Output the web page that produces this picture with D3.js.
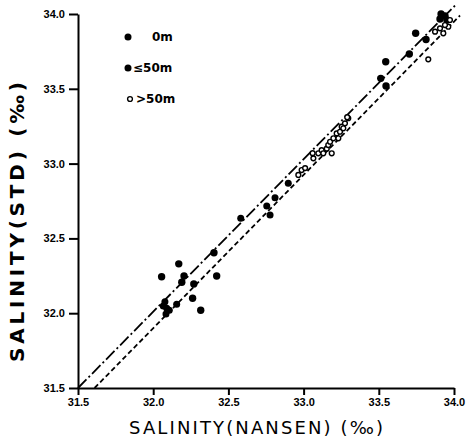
<!DOCTYPE html>
<html>
<head>
<meta charset="utf-8">
<script src="https://cdn.jsdelivr.net/npm/d3@7"></script>
<style>
  body { margin: 0; background: #fff; }
  svg { font-family: "DejaVu Sans", sans-serif; }
  .axis path, .axis line { stroke: #000; stroke-width: 2; }
  .axis text { font-size: 11px; font-weight: bold; fill: #000; }
</style>
</head>
<body>
<div id="plot"></div>
<script>
// salinity pairs [nansen, std]
var surface = [
  [32.056, 32.244], [32.17, 32.33], [32.205, 32.249], [32.19, 32.207], [32.27, 32.195],
  [32.404, 32.404], [32.422, 32.249], [32.262, 32.10], [32.316, 32.02],
  [33.513, 33.57], [33.548, 33.519], [33.546, 33.681], [33.703, 33.733],
  [33.745, 33.871], [33.814, 33.83],
  [33.914, 34.0], [33.94, 33.987], [33.907, 33.967], [33.953, 33.96]
];
var shallow = [
  [32.156, 32.06], [32.078, 32.077], [32.067, 32.048], [32.09, 32.033], [32.085, 31.995],
  [32.107, 32.02], [32.582, 32.634], [32.755, 32.717], [32.777, 32.656], [32.81, 32.772],
  [32.898, 32.868]
];
var deep = [
  [32.965, 32.924], [32.987, 32.957], [33.01, 32.97], [33.065, 33.035], [33.06, 33.07],
  [33.098, 33.069], [33.12, 33.09], [33.131, 33.069], [33.154, 33.10], [33.164, 33.124],
  [33.187, 33.069], [33.176, 33.146], [33.198, 33.169], [33.22, 33.202], [33.242, 33.213],
  [33.253, 33.247], [33.275, 33.269], [33.297, 33.303], [33.231, 33.169], [33.264, 33.236],
  [33.29, 33.31], [33.829, 33.697], [33.874, 33.882], [33.929, 33.871], [33.962, 33.915],
  [33.973, 33.96], [33.907, 33.904], [33.94, 33.926]
];
// fitted lines, end points
var lineUpper = [[31.5, 31.5], [34.02, 34.07]];
var lineLower = [[31.61, 31.5], [34.04, 33.99]];

var ticks = [31.5, 32.0, 32.5, 33.0, 33.5, 34.0];
var legendLabels = ["0m", "\u226450m", ">50m"];

var margin = { top: 14, right: 13, bottom: 51, left: 78 };
var width = 467 - margin.left - margin.right;
var height = 439 - margin.top - margin.bottom;

var svg = d3.select("div#plot")
  .append("svg")
    .attr("width", 467)
    .attr("height", 439)
  .append("g")
    .attr("transform", "translate(" + margin.left + "," + margin.top + ")");

var xscale = d3.scaleLinear().domain([31.5, 34]).range([0, width]);
var yscale = d3.scaleLinear().domain([31.5, 34]).range([height, 0]);

var xAxis = d3.axisBottom(xscale)
  .tickValues(ticks)
  .tickFormat(d3.format(".1f"))
  .tickSize(7)
  .tickSizeOuter(0)
  .tickPadding(3);

var yAxis = d3.axisLeft(yscale)
  .tickValues(ticks)
  .tickFormat(d3.format(".1f"))
  .tickSize(9)
  .tickSizeOuter(0)
  .tickPadding(4);

svg.append("g")
  .attr("class", "x axis")
  .attr("transform", "translate(0," + height + ")")
  .call(xAxis);

svg.append("g")
  .attr("class", "y axis")
  .call(yAxis);

var line = d3.line()
  .x(function(d) { return xscale(d[0]); })
  .y(function(d) { return yscale(d[1]); });

svg.append("path")
  .datum(lineUpper)
  .attr("d", line)
  .attr("fill", "none")
  .attr("stroke", "#000")
  .attr("stroke-width", 1.8)
  .attr("stroke-dasharray", "12,3,2,3");

svg.append("path")
  .datum(lineLower)
  .attr("d", line)
  .attr("fill", "none")
  .attr("stroke", "#000")
  .attr("stroke-width", 1.8)
  .attr("stroke-dasharray", "5,3");

svg.selectAll("circle.surface")
  .data(surface)
  .enter().append("circle")
  .attr("class", "surface")
  .attr("cx", function(d) { return xscale(d[0]); })
  .attr("cy", function(d) { return yscale(d[1]); })
  .attr("r", 3.7)
  .style("fill", "#000");

svg.selectAll("circle.shallow")
  .data(shallow)
  .enter().append("circle")
  .attr("class", "shallow")
  .attr("cx", function(d) { return xscale(d[0]); })
  .attr("cy", function(d) { return yscale(d[1]); })
  .attr("r", 3.5)
  .style("fill", "#000");

svg.selectAll("circle.deep")
  .data(deep)
  .enter().append("circle")
  .attr("class", "deep")
  .attr("cx", function(d) { return xscale(d[0]); })
  .attr("cy", function(d) { return yscale(d[1]); })
  .attr("r", 2.4)
  .style("fill", "#fff")
  .style("stroke", "#000")
  .style("stroke-width", 1.4);

// legend
var legend = svg.selectAll(".legend")
  .data(legendLabels)
  .enter().append("g")
  .attr("class", "legend")
  .attr("transform", function(d, i) { return "translate(50," + (23 + i * 31) + ")"; });

legend.append("circle")
  .attr("cx", function(d, i) { return i == 2 ? 2 : 0; })
  .attr("r", function(d, i) { return i == 2 ? 2.4 : 3.5; })
  .style("fill", function(d, i) { return i == 2 ? "#fff" : "#000"; })
  .style("stroke", "#000")
  .style("stroke-width", function(d, i) { return i == 2 ? 1.4 : 0; });

legend.append("text")
  .attr("x", function(d, i) { return i == 0 ? 24 : (i == 1 ? 5 : 8); })
  .attr("dy", ".36em")
  .style("font-size", "12px")
  .style("font-weight", "bold")
  .text(function(d) { return d; });

// axis titles
svg.append("text")
  .attr("x", width / 2 - 10)
  .attr("y", height + 46)
  .attr("text-anchor", "middle")
  .style("font-size", "18px")
  .attr("textLength", 254)
  .text("SALINITY(NANSEN)   (\u2030)");

svg.append("text")
  .attr("transform", "translate(-54," + (222 - margin.top) + ") rotate(-90)")
  .attr("text-anchor", "middle")
  .style("font-size", "20px")
  .style("font-weight", "bold")
  .attr("textLength", 280)
  .text("SALINITY(STD) (\u2030)");
</script>
</body>
</html>
